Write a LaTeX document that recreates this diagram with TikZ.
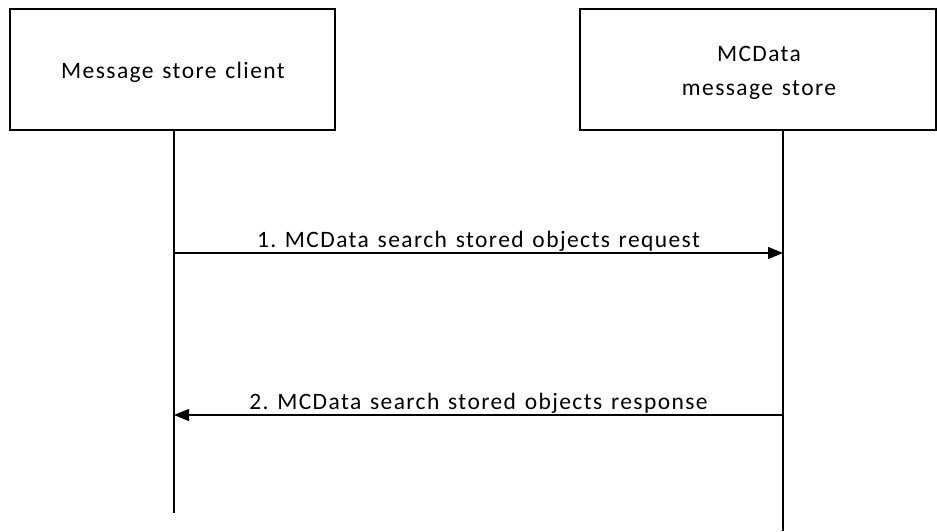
\documentclass[tikz,border=0pt]{standalone}
\usepackage{fontspec}
\setmainfont{Carlito}[LetterSpace=6,WordSpace=1.3]
\usetikzlibrary{arrows.meta}
\frenchspacing
\begin{document}
\begin{tikzpicture}[x=1pt,y=-1pt,
  entity/.style={draw,line width=1.2pt,minimum width=#1,minimum height=121pt,inner sep=0pt},
  etext/.style={align=center,font=\fontsize{23.5}{34}\selectfont,inner sep=0pt},
  life/.style={line width=1.2pt},
  msg/.style={line width=1.2pt,-{Triangle[length=15pt,width=12pt]}},
  lbl/.style={font=\fontsize{23.5}{26}\selectfont,above=0pt,inner sep=1pt}]
\useasboundingbox (0,0) rectangle (937,531);
\node[entity=325pt] (c) at (172.5,69.5) {};
\node[entity=356pt] (s) at (758,69.5) {};
\node[etext] (ct) at (173,72) {Message store client};
\node[etext] (st) at (759,72.5) {MCData\\message store};
\coordinate (cend) at (174,513);
\coordinate (send) at (783,531);
\draw[life] (c.south -| cend) -- (cend);
\draw[life] (s.south -| send) -- (send);
\coordinate (a1) at (174,253);
\coordinate (b1) at (783,253);
\coordinate (a2) at (174,415);
\coordinate (b2) at (783,415);
\draw[msg] (a1) -- node[lbl] {1. MCData search stored objects request} (b1);
\draw[msg] (b2) -- node[lbl] {2. MCData search stored objects response} (a2);
\end{tikzpicture}
\end{document}
